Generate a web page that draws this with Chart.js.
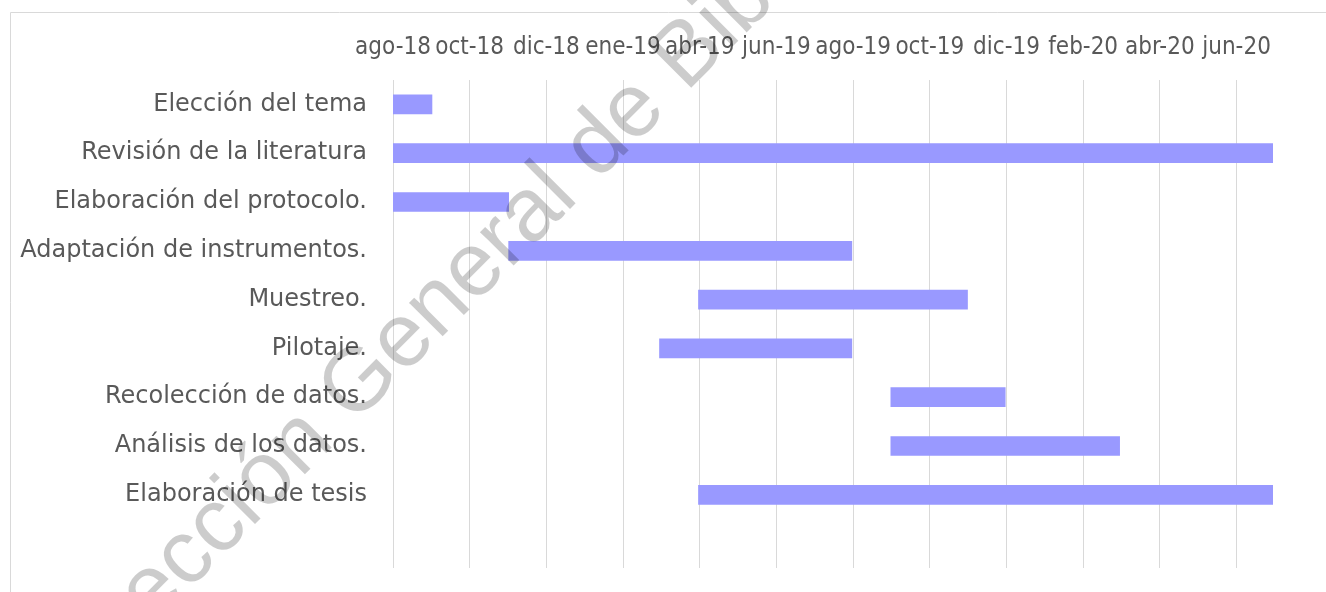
<!DOCTYPE html>
<html lang="es">
<head>
<meta charset="utf-8">
<title>Cronograma</title>
<script src="https://cdn.jsdelivr.net/npm/chart.js@4.4.1/dist/chart.umd.min.js"></script>
<style>
  html, body { margin: 0; padding: 0; background: #fff; }
  #wrap { position: relative; width: 1326px; height: 592px; }
</style>
</head>
<body>
<div id="wrap"><canvas id="gantt"></canvas></div>
<script>
// actividades del cronograma (la última fila va vacía)
var tasks = [
  'Elección del tema',
  'Revisión de la literatura',
  'Elaboración del protocolo.',
  'Adaptación de instrumentos.',
  'Muestreo.',
  'Pilotaje.',
  'Recolección de datos.',
  'Análisis de los datos.',
  'Elaboración de tesis',
  ''
];
var startDates = ['2018-08-01', '2018-08-01', '2018-08-01', '2018-11-01', '2019-04-01',
                  '2019-03-01', '2019-09-01', '2019-09-01', '2019-04-01'];
var endDates   = ['2018-09-01', '2020-07-01', '2018-11-01', '2019-08-01', '2019-11-01',
                  '2019-08-01', '2019-12-01', '2020-03-01', '2020-07-01'];

// eje de fechas: inicio, fin y marcas principales
var axisStart = '2018-08-01';
var axisEnd = '2020-07-01';
var tickDates = ['2018-08-01', '2018-10-01', '2018-12-01', '2019-01-31', '2019-04-02', '2019-06-02',
                 '2019-08-02', '2019-10-02', '2019-12-02', '2020-02-01', '2020-04-02', '2020-06-02'];
var monthNames = ['ene', 'feb', 'mar', 'abr', 'may', 'jun', 'jul', 'ago', 'sep', 'oct', 'nov', 'dic'];

function toMs(s) {
  var p = s.split('-');
  return Date.UTC(+p[0], +p[1] - 1, +p[2]);
}

function fmtTick(ms) {
  var d = new Date(ms);
  return monthNames[d.getUTCMonth()] + '-' + String(d.getUTCFullYear()).slice(2);
}

var bars = startDates.map(function(s, i) {
  return [toMs(s), toMs(endDates[i])];
});

var TEXT = '#595959';

// sin relleno extra por la mitad de las etiquetas extremas
function noEdgePadding(scale) {
  scale.paddingTop = 0;
  scale.paddingBottom = 0;
  scale.paddingLeft = 0;
  scale.paddingRight = 0;
}

// marco gris del área del gráfico
var frame = {
  id: 'frame',
  beforeDraw: function(chart) {
    var ctx = chart.ctx;
    ctx.save();
    ctx.strokeStyle = '#d9d9d9';
    ctx.lineWidth = 1;
    ctx.beginPath();
    ctx.moveTo(10.5, chart.height + 5);
    ctx.lineTo(10.5, 12.5);
    ctx.lineTo(chart.width + 5, 12.5);
    ctx.stroke();
    ctx.restore();
  }
};

// sello de agua en diagonal, semitransparente
var watermark = {
  id: 'watermark',
  afterDraw: function(chart) {
    var ctx = chart.ctx;
    ctx.save();
    ctx.translate(53, 691);
    ctx.rotate(-45 * Math.PI / 180);
    ctx.font = '90px "Liberation Sans", Arial, sans-serif';
    ctx.textBaseline = 'middle';
    ctx.fillStyle = 'rgba(0,0,0,0.2)';
    ctx.fillText('Dirección General de Bibliotecas', 0, 0);
    ctx.restore();
  }
};

new Chart(document.getElementById('gantt'), {
  type: 'bar',
  data: {
    labels: tasks,
    datasets: [{
      data: bars,
      backgroundColor: '#9999ff',
      borderWidth: 0,
      barThickness: 19
    }]
  },
  plugins: [frame, watermark],
  options: {
    indexAxis: 'y',
    responsive: true,
    maintainAspectRatio: false,
    animation: false,
    layout: { padding: { top: 0, right: 53, bottom: 24, left: 0 } },
    plugins: {
      legend: { display: false },
      tooltip: { enabled: false }
    },
    scales: {
      x: {
        type: 'linear',
        position: 'top',
        min: toMs(axisStart),
        max: toMs(axisEnd),
        afterBuildTicks: function(scale) {
          scale.ticks = tickDates.map(function(d) { return { value: toMs(d) }; });
        },
        afterFit: function(scale) {
          scale.height = 80;
          noEdgePadding(scale);
        },
        border: { display: false },
        grid: { color: '#d9d9d9', lineWidth: 1, drawTicks: false },
        ticks: {
          padding: 18,
          color: TEXT,
          font: { family: '"DejaVu Sans Condensed", "DejaVu Sans", sans-serif', size: 24 },
          maxRotation: 0,
          autoSkip: false,
          callback: function(v) { return fmtTick(v); }
        }
      },
      y: {
        afterFit: function(scale) {
          scale.width = 393;
          noEdgePadding(scale);
        },
        border: { display: false },
        grid: { display: false, drawTicks: false },
        ticks: {
          padding: 26,
          color: TEXT,
          font: { family: '"DejaVu Sans", sans-serif', size: 24 },
          autoSkip: false
        }
      }
    }
  }
});
</script>
</body>
</html>
